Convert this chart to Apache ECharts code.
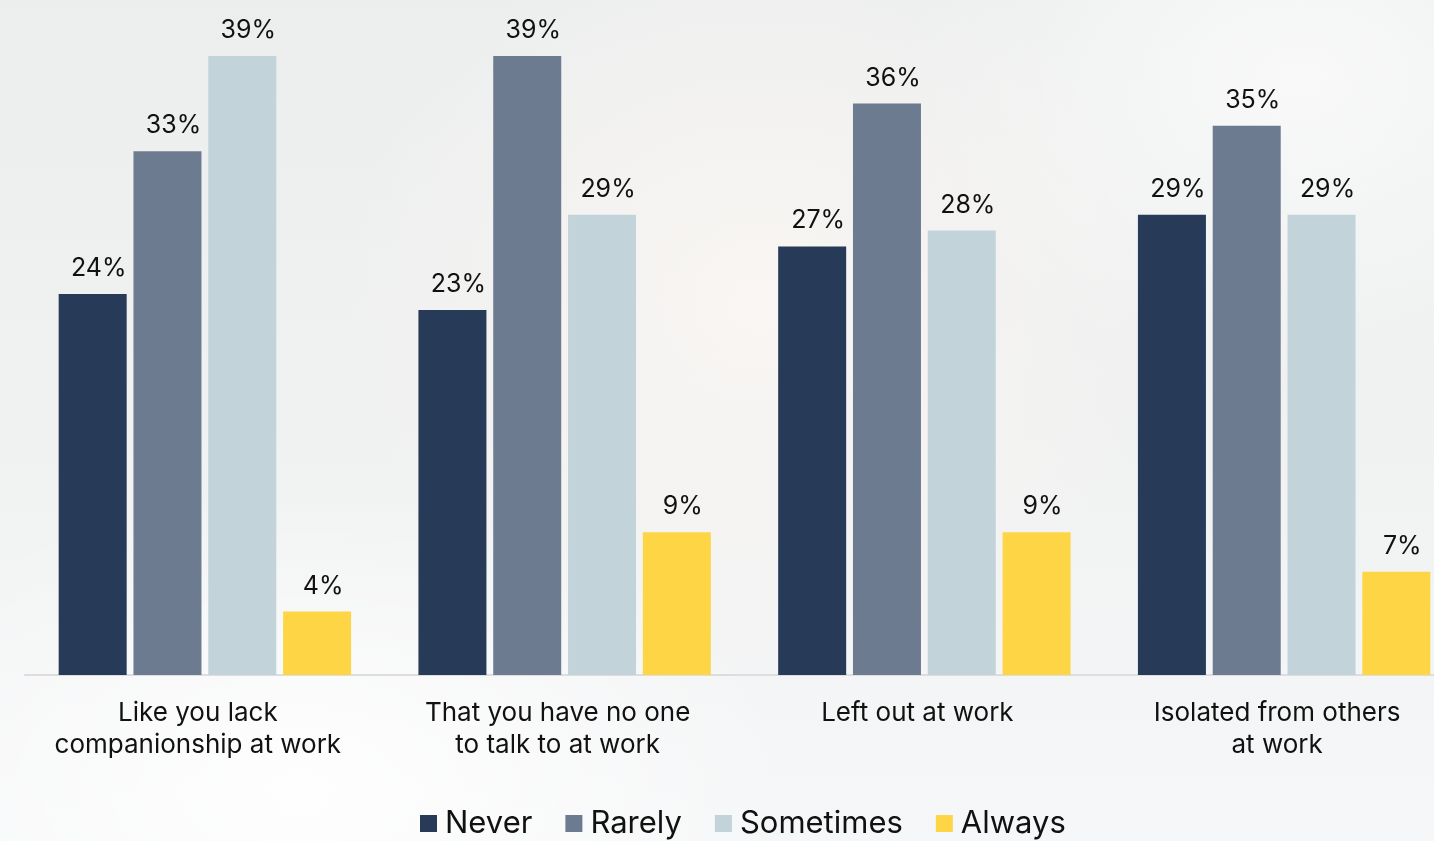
<!DOCTYPE html>
<html>
<head>
<meta charset="utf-8">
<script src="https://cdn.jsdelivr.net/npm/echarts@6/dist/echarts.min.js"></script>
<style>
html,body{margin:0;padding:0;width:1434px;height:841px;overflow:hidden;}
body{background:
 radial-gradient(ellipse 420px 380px at 760px 300px, rgba(250,246,243,0.9), rgba(250,246,243,0) 100%),
 radial-gradient(ellipse 500px 300px at 300px 790px, rgba(255,255,255,0.9), rgba(255,255,255,0) 100%),
 radial-gradient(ellipse 400px 300px at 1300px 80px, rgba(250,250,250,0.9), rgba(250,250,250,0) 100%),
 linear-gradient(180deg,#eceeee 0%,#f0f1f1 50%,#f6f7f8 100%);}
#c{width:1434px;height:841px;}
</style>
</head>
<body>
<div id="c"></div>
<script>
const categories = ["Like you lack\ncompanionship at work","That you have no one\nto talk to at work","Left out at work","Isolated from others\nat work"];
const seriesNames = ["Never","Rarely","Sometimes","Always"];
const never = [24,23,27,29];
const rarely = [33,39,36,34.6];
const sometimes = [39,29,28,29];
const always = [4,9,9,6.5];
const colors = ["#273a57","#6d7b91","#c2d3da","#fed645"];
const values = [never,rarely,sometimes,always];
const font = "Inter, 'Noto Sans', sans-serif";

const chart = echarts.init(document.getElementById('c'), null, {renderer:'canvas'});
chart.setOption({
  backgroundColor:'transparent',
  animation:false,
  grid:{left:25,width:1439,top:40,height:635,containLabel:false,outerBoundsMode:'none'},
  legend:{
    top:803,left:415,
    itemWidth:17,itemHeight:17,itemGap:33,icon:'rect',
    textStyle:{fontFamily:font,fontSize:31,color:'#111',padding:[0,0,0,3]},
    data:seriesNames
  },
  xAxis:{
    type:'category',data:categories,
    axisLine:{lineStyle:{color:'#dcdddf',width:2}},
    axisTick:{show:false},
    axisLabel:{fontFamily:font,fontSize:26,color:'#111',lineHeight:32,margin:22,interval:0,padding:[0,14,0,0]}
  },
  yAxis:{type:'value',min:0,max:40,show:false,splitLine:{show:false}},
  series: seriesNames.map((n,i)=>({
    name:n,type:'bar',data:values[i],barWidth:68,barGap:'10%',
    itemStyle:{color:colors[i]},
    label:{show:true,position:'top',distance:13,offset:[6,0],formatter:p=>Math.round(p.value)+'%',fontFamily:font,fontSize:25,color:'#111'}
  }))
});
</script>
</body>
</html>
